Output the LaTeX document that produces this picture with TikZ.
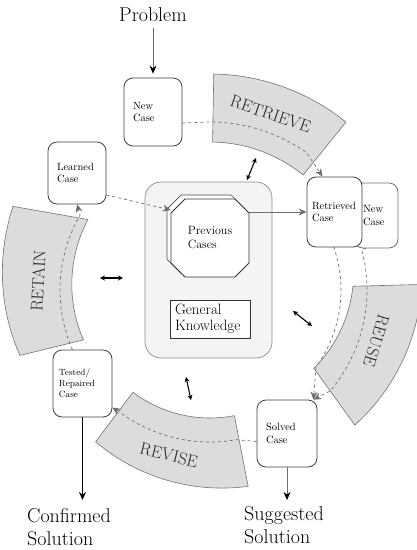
\documentclass[tikz,border=0pt]{standalone}
\usetikzlibrary{arrows.meta}
\definecolor{bandgray}{RGB}{220,220,220}
\definecolor{kbgray}{RGB}{244,244,244}
\definecolor{linegray}{RGB}{110,110,110}
\begin{document}
\begin{tikzpicture}[x=1pt,y=-1pt,
  cbox/.style={draw=black!75, fill=white, line width=0.8pt, rounded corners=9pt, align=left, inner xsep=9pt, inner ysep=3pt, font=\fontsize{10.5}{12.5}\selectfont},
  band/.style={fill=bandgray, draw=black!55, line width=0.6pt},
  bandlabel/.style={font=\fontsize{17}{20}\selectfont, text=black!85, inner sep=0pt},
  outlabel/.style={font=\fontsize{20}{23}\selectfont, align=left, inner sep=0pt},
  lane/.style={draw=linegray, line width=0.7pt, dashed},
  gtip/.style={-{Stealth[length=8pt,width=7pt]}},
  btip/.style={-{Stealth[length=8pt,width=7pt,color=black]}},
  kbarrow/.style={{Stealth[length=5pt,width=5pt]}-{Stealth[length=5pt,width=5pt]}, line width=1.1pt, black},
]
\useasboundingbox (0,0) rectangle (416,550);

% ---- phase bands ----
\path[band] plot[domain=89:51,samples=40,variable=\t] ({210+216*cos(\t)},{290-216*sin(\t)})
  -- plot[domain=51:89,samples=40,variable=\t] ({210+148*cos(\t)},{290-148*sin(\t)}) -- cycle;
\path[band] plot[domain=1.5:-43,samples=40,variable=\t] ({210+(212+0.3146*(\t-1.5))*cos(\t)},{290-(212+0.3146*(\t-1.5))*sin(\t)})
  -- plot[domain=-37:1.5,samples=40,variable=\t] ({210+(130+0.3377*(\t+37))*cos(\t)},{290-(130+0.3377*(\t+37))*sin(\t)}) -- cycle;
\path[band] plot[domain=-79:-127,samples=40,variable=\t] ({210+(200+0.2083*(\t+79))*cos(\t)},{290-(200+0.2083*(\t+79))*sin(\t)})
  -- plot[domain=-127:-79,samples=40,variable=\t] ({210+128*cos(\t)},{290-128*sin(\t)}) -- cycle;
\path[band] plot[domain=157:199,samples=40,variable=\t] ({210+(214-0.3095*(\t-157))*cos(\t)},{290-(214-0.3095*(\t-157))*sin(\t)})
  -- plot[domain=201.5:150,samples=40,variable=\t] ({210+(136-0.0971*(\t-201.5))*cos(\t)},{290-(136-0.0971*(\t-201.5))*sin(\t)}) -- cycle;

% ---- knowledge base ----
\node[draw=black!45, fill=kbgray, rounded corners=16pt, minimum width=127pt, minimum height=176pt, line width=0.7pt] (kb) at (208.5,270) {};
\draw[black!70, fill=white, line width=0.7pt] (181,195) -- (231,195) -- (245,209) -- (245,259) -- (231,273) -- (181,273) -- (167,259) -- (167,209) -- cycle;
\draw[black!80, fill=white, line width=0.8pt] (185,199) -- (235,199) -- (249,213) -- (249,263) -- (235,277) -- (185,277) -- (171,263) -- (171,213) -- cycle;
\node[font=\fontsize{12}{14}\selectfont, align=left, minimum width=78pt, minimum height=78pt, inner sep=0pt] (pc) at (210,238) {Previous\\Cases};
\node[draw=black!80, fill=white, line width=0.8pt, minimum width=80pt, minimum height=38pt, text width=70pt, inner xsep=5pt, inner ysep=2pt, align=left, font=\fontsize{15}{16}\selectfont] (gk) at (210,319) {General\\Knowledge};

% ---- case boxes ----
\node[cbox, text width=26pt, minimum height=65pt, draw=black!55] (nc2) at (376,215.5) {New\\Case};
\node[cbox, text width=45pt, inner xsep=5pt, minimum height=70pt] (rc) at (334.5,212) {Retrieved\\Case};
\node[cbox, text width=40pt, minimum height=68pt] (nc1) at (153,112) {New\\Case};
\node[cbox, text width=40pt, minimum height=62pt] (lc) at (77,173) {Learned\\Case};
\node[cbox, text width=42pt, minimum height=67pt] (sc) at (287,433.5) {Solved\\Case};
\node[cbox, text width=47pt, inner xsep=6pt, minimum height=67pt, font=\fontsize{9}{11}\selectfont] (tc) at (82.5,383.5) {Tested/\\Repaired\\Case};

% ---- outer labels ----
\node[outlabel] (prob) at (153,15) {Problem};
\node[outlabel, anchor=north west] (conf) at (27,508) {Confirmed\\Solution};
\node[outlabel, anchor=north west] (sugg) at (244,506) {Suggested\\Solution};

% ---- connectors ----
\draw[line width=0.8pt, draw=black!60, btip, shorten <=6pt, shorten >=4pt] (prob) -- (nc1);
\draw[lane, gtip] ([yshift=-11pt]nc1.east) -- plot[domain=90:55,samples=30,variable=\t] ({210+168*cos(\t)},{290-168*sin(\t)}) -- ([xshift=-12pt]rc.north);
\draw[draw=linegray, line width=0.9pt, gtip] (pc.east |- rc.west) -- (rc.west);
\draw[lane, gtip] ([yshift=-22pt]lc.east) -- ([yshift=28pt]pc.west);
\draw[lane, gtip] ([xshift=-10pt]tc.north) -- plot[domain=203:150,samples=30,variable=\t] ({210+150*cos(\t)},{290-150*sin(\t)}) -- (lc.south);
\draw[lane, gtip] ([yshift=-8pt]sc.west) -- plot[domain=-80:-126,samples=30,variable=\t] ({210+152*cos(\t)},{290-152*sin(\t)}) -- ([yshift=-24pt]tc.east);
\draw[lane, gtip] (rc.south) -- plot[domain=19:-36,samples=30,variable=\t] ({210+131*cos(\t)},{290-131*sin(\t)}) -- ([xshift=-4pt]sc.north east);
\draw[lane, gtip] ([xshift=-10pt]nc2.south) -- plot[domain=15:-40,samples=30,variable=\t] ({210+157*cos(\t)},{290-157*sin(\t)}) -- ([xshift=-4pt]sc.north east);
\draw[draw=linegray, line width=0.8pt, btip, shorten >=6pt] (sc.south) -- (sc.south |- sugg.north);
\draw[line width=1.2pt, black, btip, shorten >=8pt] (tc.south) -- (tc.south |- conf.north);

% ---- knowledge interaction arrows ----
\coordinate (kl1) at (100,278); \coordinate (kl2) at (123,278);
\coordinate (kt1) at (247,180); \coordinate (kt2) at (256,158);
\coordinate (kr1) at (293,311); \coordinate (kr2) at (312,326);
\coordinate (kb1) at (186,377); \coordinate (kb2) at (191,400);
\draw[kbarrow] (kl1) -- (kl2);
\draw[kbarrow] (kt1) -- (kt2);
\draw[kbarrow] (kr1) -- (kr2);
\draw[kbarrow] (kb1) -- (kb2);

% ---- phase labels ----
\node[bandlabel, rotate=-19] (lretrieve) at (270.6,114.1) {RETRIEVE};
\node[bandlabel, rotate=-107] (lreuse) at (376.4,340.9) {REUSE};
\node[bandlabel, rotate=-14] (lrevise) at (168.9,455) {REVISE};
\node[bandlabel, rotate=87] (lretain) at (38.2,281) {RETAIN};
\end{tikzpicture}
\end{document}
